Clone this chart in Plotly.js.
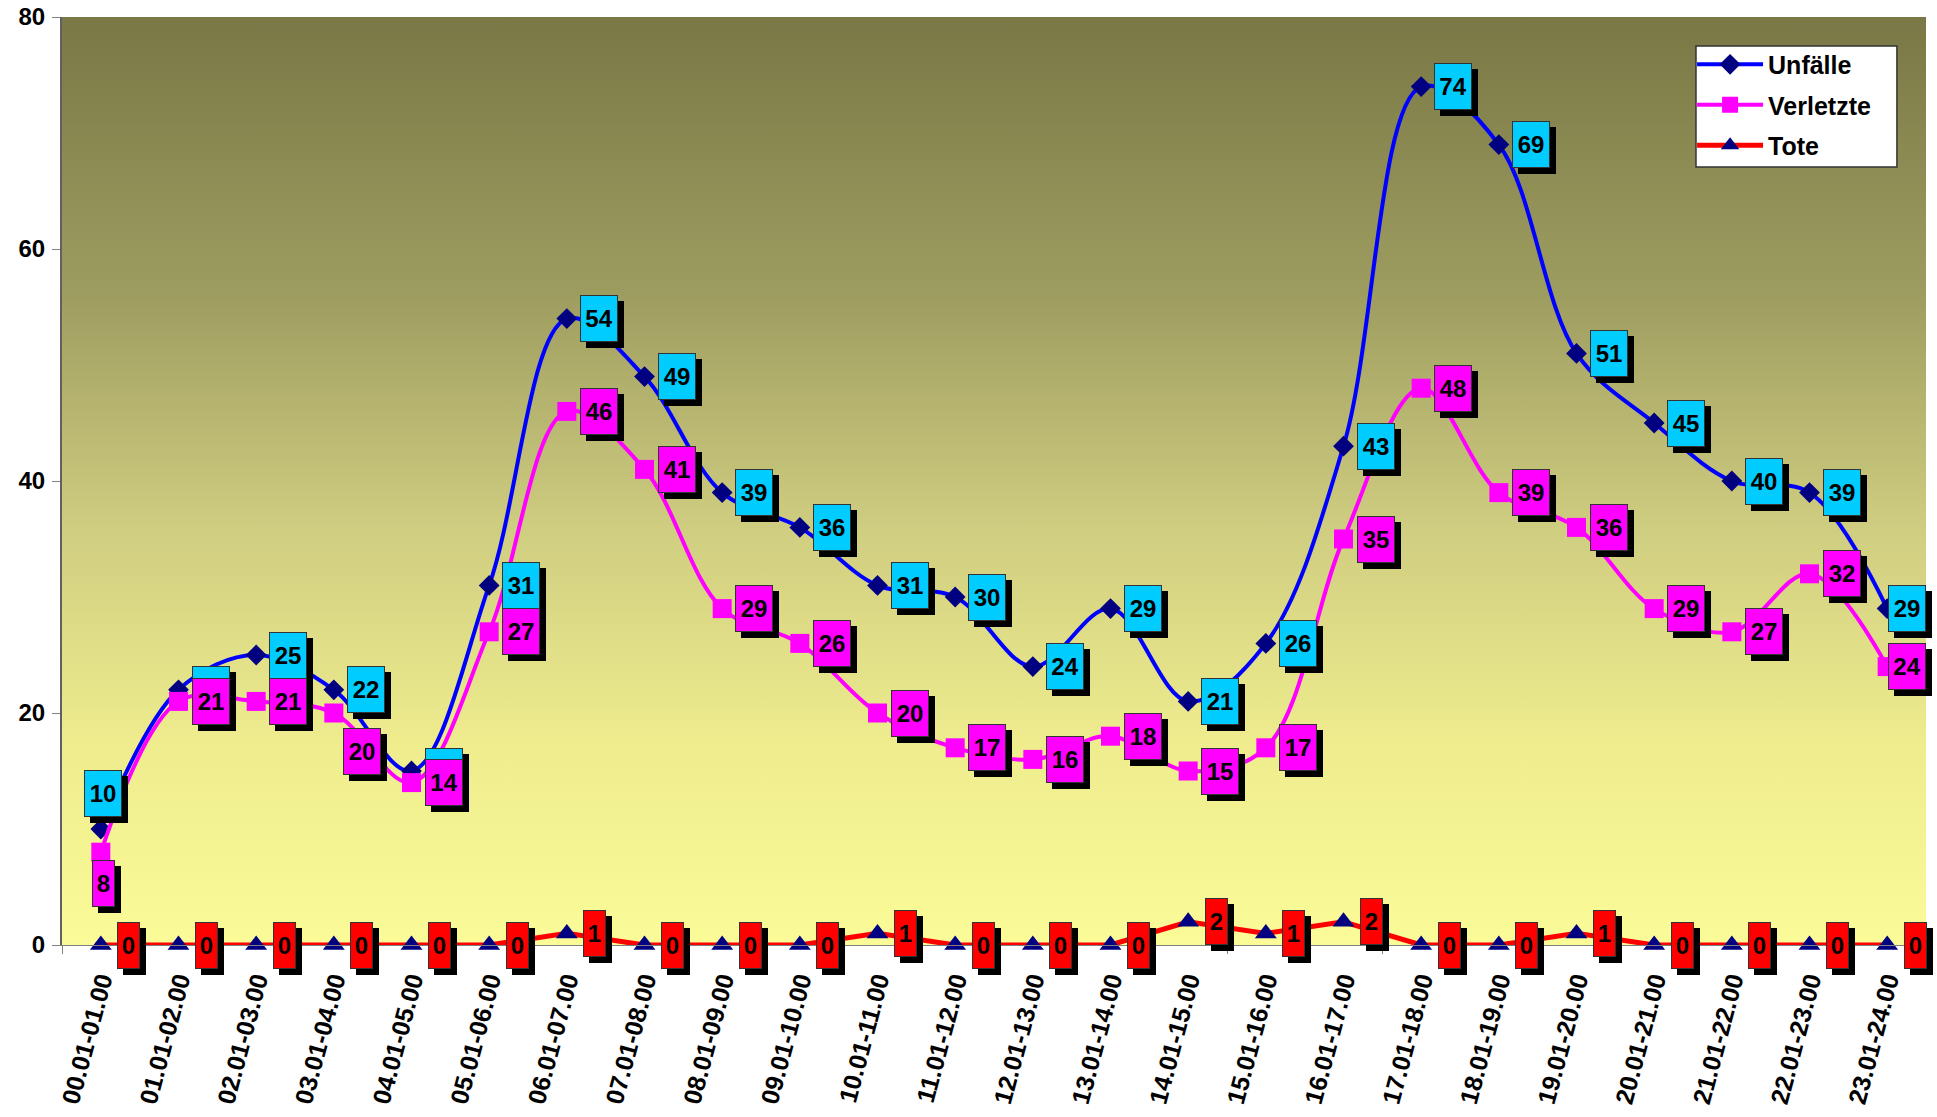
<!DOCTYPE html>
<html>
<head>
<meta charset="utf-8">
<script src="https://cdn.plot.ly/plotly-3.0.1.min.js"></script>
<style>html,body{margin:0;padding:0;background:#fff;}#chart{width:1937px;height:1117px;}</style>
</head>
<body>
<div id="chart"></div>
<script>
// ---- data ----
const categories = ['00.01-01.00','01.01-02.00','02.01-03.00','03.01-04.00','04.01-05.00','05.01-06.00',
  '06.01-07.00','07.01-08.00','08.01-09.00','09.01-10.00','10.01-11.00','11.01-12.00',
  '12.01-13.00','13.01-14.00','14.01-15.00','15.01-16.00','16.01-17.00','17.01-18.00',
  '18.01-19.00','19.01-20.00','20.01-21.00','21.01-22.00','22.01-23.00','23.01-24.00'];
const seriesNames = ['Unfälle','Verletzte','Tote'];
const unfaelle  = [10,22,25,22,15,31,54,49,39,36,31,30,24,29,21,26,43,74,69,51,45,40,39,29];
const verletzte = [8,21,21,20,14,27,46,41,29,26,20,17,16,18,15,17,35,48,39,36,29,27,32,24];
const tote      = [0,0,0,0,0,0,1,0,0,0,1,0,0,0,2,1,2,0,0,1,0,0,0,0];
const yTicks = [0,20,40,60,80];

// ---- styles ----
const FONT = '"Liberation Sans", Arial, sans-serif';
const labelStyles = [
  {bg:'#00CCFF'},
  {bg:'#FF00FF'},
  {bg:'#FF0000'}
];
// label offset overrides (pixel shifts) per series / index
const overrides = {
  '0-0': {dx:2, dy:36},
  '1-0': {dx:3, dy:-31},
  '1-3': {dx:28, dy:-38}
};

const traces = [
  {x:categories, y:unfaelle, name:seriesNames[0], type:'scatter', mode:'lines+markers',
   line:{color:'#0000FF', width:4, shape:'spline', smoothing:1},
   marker:{symbol:'diamond', size:16, color:'#000080'}, legendgroup:'a', cliponaxis:false},
  {x:categories, y:verletzte, name:seriesNames[1], type:'scatter', mode:'lines+markers',
   line:{color:'#FF00FF', width:4, shape:'spline', smoothing:1},
   marker:{symbol:'square', size:19, color:'#FF00FF'}, legendgroup:'b', cliponaxis:false},
  {x:categories, y:tote, name:seriesNames[2], type:'scatter', mode:'lines+markers',
   line:{color:'#FF0000', width:5},
   marker:{symbol:'triangle-up', size:19, color:'#000080'}, legendgroup:'c', cliponaxis:false}
];

const annotations = [];
[unfaelle, verletzte, tote].forEach((vals, s) => {
  vals.forEach((v, i) => {
    const txt = String(v);
    const outerW = txt.length > 1 ? 38 : 23;
    const outerH = 47;
    let dx = txt.length > 1 ? 32 : 28;
    if (i === vals.length - 1 && txt.length > 1) dx = 20;
    let dy = 0;
    const o = overrides[s + '-' + i];
    if (o) { dx = o.dx; dy = o.dy; }
    // shadow
    annotations.push({x:categories[i], y:v, xref:'x', yref:'y', showarrow:false,
      text:' ', xanchor:'center', yanchor:'middle', xshift:dx+6, yshift:dy-6,
      width:outerW, height:outerH, bgcolor:'#000000', borderwidth:0, borderpad:0,
      font:{family:FONT, size:24}});
    // box
    annotations.push({x:categories[i], y:v, xref:'x', yref:'y', showarrow:false,
      text:txt, xanchor:'center', yanchor:'middle', xshift:dx, yshift:dy,
      width:outerW-2, height:outerH-2, bgcolor:labelStyles[s].bg, bordercolor:'#333333',
      borderwidth:1, borderpad:0,
      font:{family:FONT, size:24, color:'#000000', weight:'bold'}});
  });
});

const gradSvg = "<svg xmlns='http://www.w3.org/2000/svg' width='10' height='100' viewBox='0 0 10 100' preserveAspectRatio='none'>" +
  "<defs><linearGradient id='g' x1='0' y1='0' x2='0' y2='1'>" +
  "<stop offset='0' stop-color='#797846'/>" +
  "<stop offset='0.3' stop-color='#9E9D60'/>" +
  "<stop offset='0.55' stop-color='#CFCD80'/>" +
  "<stop offset='0.78' stop-color='#EEEC8D'/>" +
  "<stop offset='1' stop-color='#FBFB98'/>" +
  "</linearGradient></defs><rect x='0' y='0' width='10' height='100' fill='url(#g)'/></svg>";

const layout = {
  width:1937, height:1117,
  margin:{l:62, r:11, t:17, b:172},
  paper_bgcolor:'#FFFFFF',
  plot_bgcolor:'rgba(0,0,0,0)',
  showlegend:true,
  font:{family:FONT, size:24, color:'#000000', weight:'bold'},
  images:[{source:'data:image/svg+xml;charset=utf-8,' + encodeURIComponent(gradSvg),
    xref:'paper', yref:'paper', x:0, y:1, sizex:1, sizey:1, sizing:'stretch',
    xanchor:'left', yanchor:'top', layer:'below'}],
  shapes:[{type:'rect', xref:'paper', yref:'paper', x0:0.8766, x1:0.9844, y0:0.8384, y1:0.9688,
    fillcolor:'#FFFFFF', line:{color:'#333333', width:1.5}, layer:'above'}],
  xaxis:{type:'category', range:[-0.5, 23.5], tickangle:-75, ticks:'outside', tickson:'boundaries',
    ticklen:8, tickcolor:'#808080', showline:true, linecolor:'#808080', linewidth:1,
    showgrid:false, zeroline:false, ticklabelstandoff:10,
    tickfont:{family:FONT, size:25, color:'#000000', weight:'bold'}},
  yaxis:{range:[0,80], tickvals:yTicks, ticks:'outside', ticklen:8, tickcolor:'#808080',
    showline:true, linecolor:'#606060', linewidth:2, showgrid:false, zeroline:false,
    ticklabelstandoff:2,
    tickfont:{family:FONT, size:24, color:'#000000', weight:'bold'}},
  legend:{x:0.8745, y:0.9735, xanchor:'left', yanchor:'top', bgcolor:'rgba(0,0,0,0)',
    borderwidth:0, itemwidth:66, tracegroupgap:5,
    font:{family:FONT, size:25, color:'#000000', weight:'bold'}},
  annotations:annotations
};

Plotly.newPlot('chart', traces, layout, {displayModeBar:false, staticPlot:true});
</script>
</body>
</html>
